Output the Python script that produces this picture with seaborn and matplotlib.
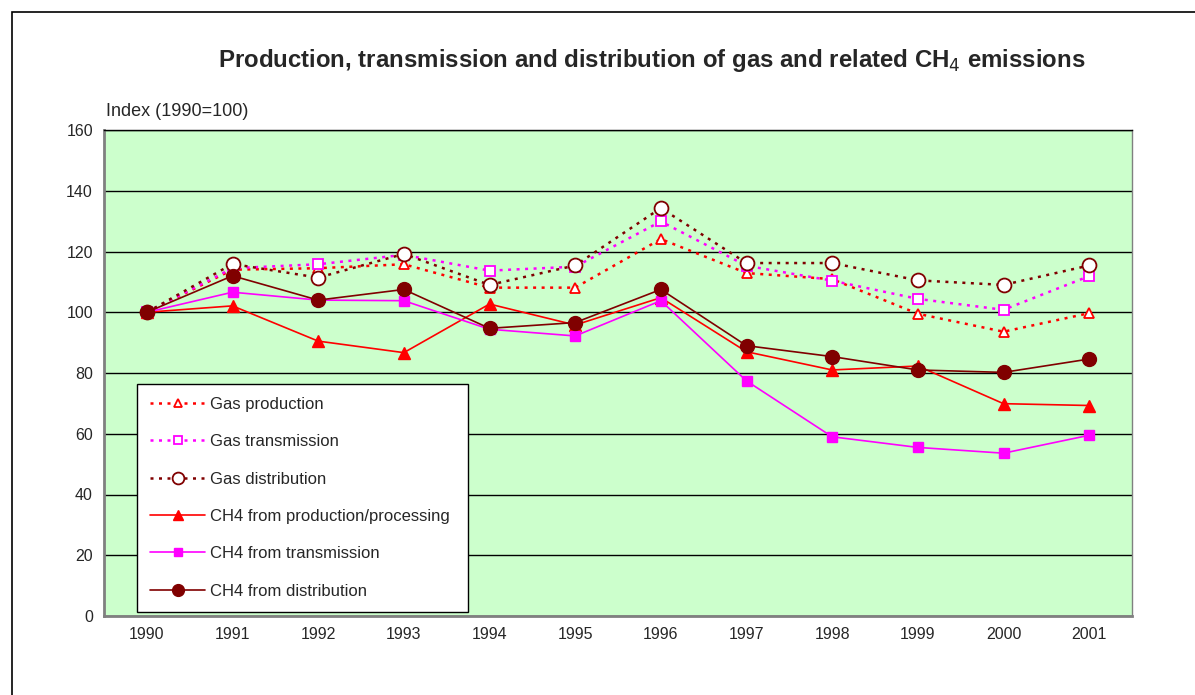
import matplotlib
matplotlib.use("Agg")
import matplotlib.pyplot as plt
import seaborn as sns
import pandas as pd
from matplotlib.patches import Rectangle

years = [1990, 1991, 1992, 1993, 1994, 1995, 1996, 1997, 1998, 1999, 2000, 2001]
gas_production = [100, 114.0, 114.5, 115.8, 108.1, 108.1, 124.1, 112.9, 110.9, 99.5, 93.6, 99.7]
gas_transmission = [100, 114.5, 115.8, 118.9, 113.7, 115.0, 129.9, 115.3, 110.4, 104.4, 100.8, 111.9]
gas_distribution = [100, 115.9, 111.4, 119.2, 109.0, 115.4, 134.3, 116.2, 116.2, 110.5, 109.0, 115.4]
ch4_production = [100, 102.1, 90.5, 86.7, 102.7, 95.8, 104.8, 87.0, 81.0, 82.3, 69.9, 69.3]
ch4_transmission = [100, 106.6, 104.0, 103.8, 94.4, 92.2, 103.8, 77.4, 59.0, 55.5, 53.6, 59.5]
ch4_distribution = [100, 112.0, 104.0, 107.5, 94.7, 96.6, 107.5, 89.0, 85.4, 81.0, 80.2, 84.6]

series_names = ["Gas production", "Gas transmission", "Gas distribution",
                "CH4 from production/processing", "CH4 from transmission", "CH4 from distribution"]
series_values = [gas_production, gas_transmission, gas_distribution,
                 ch4_production, ch4_transmission, ch4_distribution]
y_ticks = [0, 20, 40, 60, 80, 100, 120, 140, 160]

sns.set_style("white")
plt.rcParams['font.family'] = ['Liberation Sans', 'DejaVu Sans']

fig = plt.figure(figsize=(11.95, 6.95), dpi=100)
ax = fig.add_axes([104/1195, 1 - 616/695, (1132-104)/1195, 486/695])
ax.set_facecolor("#CCFFCC")

styles = [
    dict(color="#FF0000", ls=(0, (1.2, 2.2)), lw=1.8, marker="^", ms=7, mfc="white", mec="#FF0000", mew=1.3),
    dict(color="#FF00FF", ls=(0, (1.2, 2.2)), lw=1.8, marker="s", ms=6.5, mfc="white", mec="#FF00FF", mew=1.3),
    dict(color="#800000", ls=(0, (1.2, 2.2)), lw=1.8, marker="o", ms=10, mfc="white", mec="#800000", mew=1.3),
    dict(color="#FF0000", ls="-", lw=1.2, marker="^", ms=8, mfc="#FF0000", mec="#FF0000", mew=1),
    dict(color="#FF00FF", ls="-", lw=1.2, marker="s", ms=7, mfc="#FF00FF", mec="#FF00FF", mew=1),
    dict(color="#800000", ls="-", lw=1.2, marker="o", ms=10, mfc="#800000", mec="#800000", mew=1),
]

for name, vals, st in zip(series_names, series_values, styles):
    df = pd.DataFrame({"year": years, "value": vals})
    sns.lineplot(data=df, x="year", y="value", ax=ax, label=name,
                 color=st["color"], linestyle=st["ls"], linewidth=st["lw"],
                 marker=st["marker"], markersize=st["ms"],
                 markerfacecolor=st["mfc"], markeredgecolor=st["mec"],
                 markeredgewidth=st["mew"], zorder=3)

ax.set_xlim(years[0] - 0.5, years[-1] + 0.5)
ax.set_ylim(0, 160)
ax.set_yticks(y_ticks)
ax.set_yticklabels([str(t) for t in y_ticks], fontsize=11.5)
ax.set_xticks(years)
ax.set_xticklabels([str(y) for y in years], fontsize=11.5)
ax.set_xticks([y + 0.5 for y in [years[0] - 1] + years], minor=True)
ax.tick_params(axis="x", which="major", length=0, pad=8)
ax.tick_params(axis="x", which="minor", length=6, width=1, color="black", direction="out")
ax.tick_params(axis="y", length=5, width=1, color="black", direction="out", pad=3)
ax.yaxis.grid(True, color="black", linewidth=1)
ax.set_axisbelow(True)
ax.set_xlabel("")
ax.set_ylabel("")
for side in ["left", "bottom"]:
    ax.spines[side].set_color("#808080")
    ax.spines[side].set_linewidth(2)
ax.spines["top"].set_color("black")
ax.spines["top"].set_linewidth(1)
ax.spines["right"].set_color("#808080")
ax.spines["right"].set_linewidth(1)

leg = ax.legend(loc="lower left", bbox_to_anchor=((137-104)/1028, (616-612)/486, (468-137)/1028, (612-383)/486),
                mode="expand", fontsize=12, frameon=True, fancybox=False, shadow=False,
                handlelength=3.3, handletextpad=0.25, labelspacing=1.34, borderaxespad=0,
                borderpad=0.8, edgecolor="black", facecolor="white", framealpha=1,
                markerscale=0.85)
leg.get_frame().set_linewidth(1)
leg.set_zorder(5)

fig.text(652/1195, 1 - 61/695,
         "Production, transmission and distribution of gas and related CH$_4$ emissions",
         ha="center", va="center", fontsize=17.3, fontweight="bold")
fig.text(106/1195, 1 - 111/695, "Index (1990=100)", ha="left", va="center", fontsize=13)

fig.patches.append(Rectangle((12/1195, -0.1), 1.2, 1 - 12/695 + 0.1, transform=fig.transFigure,
                             fill=False, edgecolor="black", linewidth=1.2))

fig.savefig("out.png", dpi=100)
